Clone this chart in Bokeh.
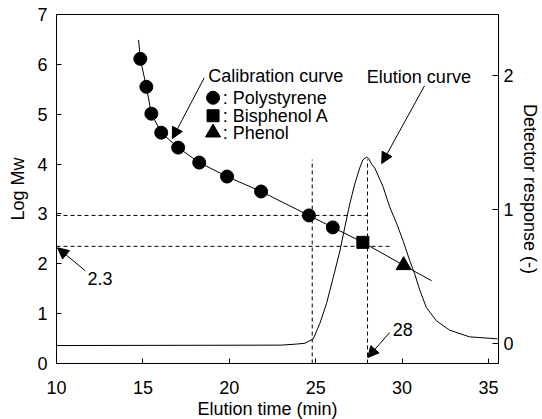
from bokeh.plotting import figure
from bokeh.models import Range1d, LinearAxis, FixedTicker, Arrow, NormalHead, Title
from bokeh.core.properties import value
from bokeh.embed import file_html
from bokeh.resources import INLINE

# ---- data ----
calib_time = [14.85, 15.20, 15.49, 16.06, 17.04, 18.26, 19.87, 21.84, 24.61, 25.99]
calib_logmw = [6.11, 5.55, 5.01, 4.63, 4.33, 4.03, 3.75, 3.45, 2.97, 2.73]
bpa_time = [27.73]
bpa_logmw = [2.43]
phenol_time = [30.09]
phenol_logmw = [1.97]
fit_time = [14.75, 14.85, 15.20, 15.49, 16.06, 17.04, 18.26, 19.87, 21.84, 24.61, 25.99, 27.73, 30.09, 31.71]
fit_logmw = [6.49, 6.11, 5.55, 5.01, 4.63, 4.33, 4.03, 3.75, 3.45, 2.97, 2.73, 2.43, 1.97, 1.66]

elution_time = [10.0, 23.0, 23.8, 24.38, 24.86, 25.24, 25.63, 26.01, 26.40, 26.69, 26.97, 27.26,
                27.55, 27.73, 27.93, 28.07, 28.23, 28.42, 28.90, 29.28, 29.67, 30.05, 30.44,
                30.73, 31.02, 31.40, 31.98, 32.75, 33.90, 35.52]
elution_resp = [-0.015, -0.012, -0.005, 0.002, 0.035, 0.15, 0.30, 0.49, 0.69, 0.87, 1.04, 1.19,
                1.31, 1.37, 1.39, 1.38, 1.34, 1.31, 1.17, 1.02, 0.90, 0.77, 0.62,
                0.52, 0.40, 0.27, 0.17, 0.10, 0.05, 0.035]

# guide lines
hguide_logmw = [2.97, 2.35]
hguide_end = [28.0, 29.3]
vguide_time = [24.8, 28.0]
vguide_top = [4.09, 4.09]

x_ticks = [10, 15, 20, 25, 30, 35]
y_ticks = [0, 1, 2, 3, 4, 5, 6, 7]
det_ticks = [0, 1, 2]
legend_labels = [": Polystyrene", ": Bisphenol A", ": Phenol"]
x_title = "Elution time (min)"

FONT = "Liberation Sans"
FS = "18px"

p = figure(width=542, height=419, output_backend="svg", toolbar_location=None,
           x_range=Range1d(10, 35.58), y_range=Range1d(0, 7),
           min_border_left=56, min_border_right=43, min_border_top=14, min_border_bottom=56)
p.extra_y_ranges = {"det": Range1d(-0.149, 2.455)}
p.grid.visible = False
p.outline_line_color = "black"
p.outline_line_width = 1
p.background_fill_color = "white"
p.border_fill_color = "white"

rax = LinearAxis(y_range_name="det", axis_label="Detector response (-)",
                 ticker=FixedTicker(ticks=det_ticks))
p.add_layout(rax, "right")

for ax in [p.xaxis[0], p.yaxis[0], rax]:
    ax.major_tick_in = 5
    ax.major_tick_out = 0
    ax.minor_tick_line_color = None
    ax.axis_line_color = "black"
    ax.major_tick_line_color = "black"
    ax.major_label_text_font = FONT
    ax.major_label_text_font_size = FS
    ax.major_label_text_color = "black"
    ax.axis_label_text_font = FONT
    ax.axis_label_text_font_size = FS
    ax.axis_label_text_font_style = "normal"
    ax.axis_label_text_color = "black"

p.xaxis[0].ticker = FixedTicker(ticks=x_ticks)
p.yaxis[0].ticker = FixedTicker(ticks=y_ticks)
p.yaxis[0].axis_label = "Log Mw"
p.xaxis[0].major_label_standoff = 17
p.yaxis[0].major_label_standoff = 9
p.yaxis[0].axis_label_standoff = 6
rax.major_tick_in = 6
rax.major_label_standoff = 5
rax.axis_label_standoff = 3

# x-axis title in the bottom margin
p.add_layout(Title(text=x_title, align="left", text_font=FONT, text_font_size=FS,
                   text_font_style="normal", text_color="black", standoff=0, offset=141),
             "below")

# dashed guides
p.segment(x0=[10] * len(hguide_logmw), y0=hguide_logmw, x1=hguide_end, y1=hguide_logmw,
          line_color="black", line_width=1, line_dash="4 3")
p.segment(x0=vguide_time, y0=[0] * len(vguide_time), x1=vguide_time, y1=vguide_top,
          line_color="black", line_width=1, line_dash="4 3")

# elution curve
p.line(elution_time, elution_resp, y_range_name="det", line_color="black", line_width=1)

# calibration curve
p.line(fit_time, fit_logmw, line_color="black", line_width=1)
p.scatter(calib_time, calib_logmw, marker="circle", size=13, fill_color="black", line_color="black")
p.scatter(bpa_time, bpa_logmw, marker="square", size=12, fill_color="black", line_color="black")
p.scatter(phenol_time, phenol_logmw, marker="triangle", size=15, fill_color="black", line_color="black")

# legend (manual)
leg_x = 19.06
leg_y = [5.33, 4.97, 4.63]
p.scatter([leg_x], [leg_y[0]], marker="circle", size=13, fill_color="black", line_color="black")
p.scatter([leg_x], [leg_y[1]], marker="square", size=12, fill_color="black", line_color="black")
p.scatter([leg_x], [leg_y[2]], marker="triangle", size=15, fill_color="black", line_color="black")
p.text(x=[19.62] * 3, y=leg_y, text=legend_labels, text_font=value(FONT),
       text_font_size=value(FS), text_baseline="middle", text_align="left", text_color="black")

# annotation texts
p.text(x=[18.78, 27.96, 11.79, 29.46], y=[5.77, 5.75, 1.70, 0.68],
       text=["Calibration curve", "Elution curve", "2.3", "28"],
       text_font=value(FONT), text_font_size=value(FS),
       text_baseline="middle", text_align="left", text_color="black")

# arrows
arrows = [(18.55, 5.73, 16.70, 4.51), (31.30, 5.57, 28.82, 4.01),
          (11.67, 1.86, 10.06, 2.32), (29.28, 0.62, 28.01, 0.12)]
for xs, ys, xe, ye in arrows:
    p.add_layout(Arrow(end=NormalHead(size=11, fill_color="black", line_color="black", line_width=1),
                       x_start=xs, y_start=ys, x_end=xe, y_end=ye,
                       line_color="black", line_width=1))

open("out.html", "w").write(file_html(p, INLINE))
